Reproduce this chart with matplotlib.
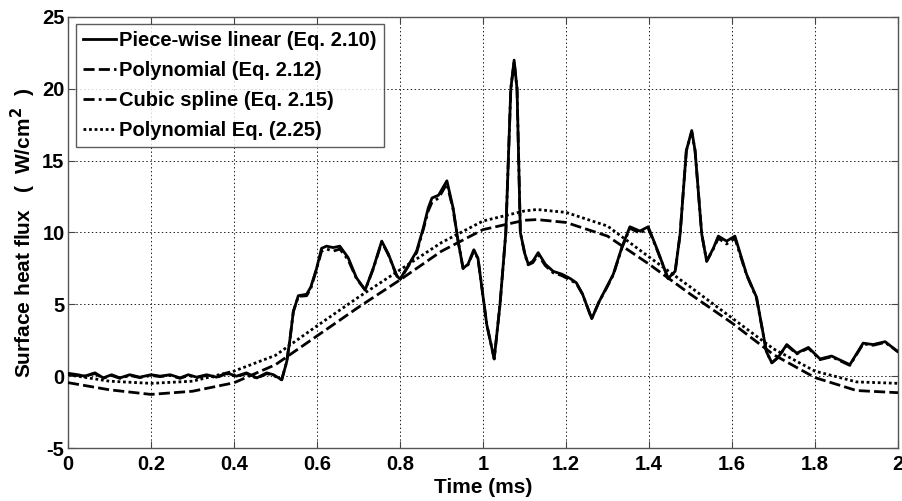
import matplotlib
matplotlib.use("Agg")
import matplotlib.pyplot as plt

# ---------------- data ----------------
t_pw = [0.000, 0.024, 0.040, 0.065, 0.085, 0.105, 0.125, 0.149, 0.173, 0.200,
        0.222, 0.246, 0.270, 0.290, 0.310, 0.334, 0.358, 0.382, 0.406, 0.430,
        0.455, 0.479, 0.495, 0.515, 0.527, 0.535, 0.543, 0.555, 0.575, 0.585,
        0.599, 0.611, 0.623, 0.639, 0.655, 0.675, 0.695, 0.716, 0.736, 0.756,
        0.772, 0.792, 0.800, 0.820, 0.840, 0.856, 0.868, 0.877, 0.893, 0.913,
        0.928, 0.940, 0.952, 0.964, 0.978, 0.988, 0.993, 1.009, 1.027, 1.041,
        1.055, 1.067, 1.075, 1.082, 1.090, 1.101, 1.109, 1.120, 1.133, 1.150,
        1.169, 1.190, 1.210, 1.225, 1.240, 1.262, 1.280, 1.298, 1.314, 1.335,
        1.354, 1.378, 1.398, 1.420, 1.446, 1.463, 1.475, 1.490, 1.503, 1.511,
        1.527, 1.539, 1.555, 1.567, 1.587, 1.607, 1.635, 1.659, 1.683, 1.696,
        1.711, 1.732, 1.756, 1.784, 1.812, 1.840, 1.884, 1.916, 1.940, 1.969,
        2.000]
q_pw = [0.20, 0.10, 0.00, 0.23, -0.12, 0.10, -0.12, 0.10, -0.07, 0.10,
        0.00, 0.10, -0.12, 0.10, -0.07, 0.10, -0.07, 0.23, 0.00, 0.23,
        -0.12, 0.23, 0.10, -0.25, 1.00, 2.60, 4.50, 5.60, 5.70, 6.20,
        7.50, 8.90, 9.05, 8.95, 9.05, 8.25, 6.85, 6.00, 7.55, 9.40,
        8.50, 7.00, 6.75, 7.70, 8.70, 10.30, 11.70, 12.40, 12.60, 13.60,
        11.70, 9.40, 7.50, 7.80, 8.80, 8.20, 7.10, 3.60, 1.20, 5.00,
        10.00, 20.00, 22.00, 20.00, 10.00, 8.50, 7.80, 8.00, 8.60, 7.80,
        7.30, 7.10, 6.80, 6.50, 5.70, 4.00, 5.20, 6.20, 7.10, 9.00,
        10.40, 10.10, 10.40, 8.80, 6.80, 7.30, 9.90, 15.70, 17.10, 15.70,
        9.90, 8.00, 8.90, 9.75, 9.40, 9.75, 7.10, 5.50, 1.70, 0.93,
        1.30, 2.20, 1.60, 2.00, 1.20, 1.40, 0.80, 2.30, 2.20, 2.40,
        1.70]

# cubic spline (Eq. 2.15): nearly coincident with the piece-wise linear curve
t_cs = t_pw
q_cs = [0.15, 0.05, 0.00, 0.18, -0.15, 0.05, -0.15, 0.05, -0.10, 0.05,
        -0.03, 0.05, -0.15, 0.05, -0.10, 0.05, -0.10, 0.18, -0.03, 0.18,
        -0.15, 0.18, 0.05, -0.25, 1.00, 2.60, 4.50, 5.55, 5.60, 6.10,
        7.45, 8.70, 8.85, 8.70, 8.85, 8.10, 6.80, 6.00, 7.50, 9.35,
        8.45, 7.00, 6.70, 7.65, 8.60, 10.20, 11.50, 12.10, 12.40, 13.40,
        11.60, 9.40, 7.50, 7.75, 8.75, 8.15, 7.10, 3.60, 1.20, 5.00,
        10.00, 20.00, 21.90, 20.00, 10.00, 8.45, 7.75, 7.90, 8.45, 7.70,
        7.20, 7.00, 6.70, 6.45, 5.70, 4.00, 5.20, 6.15, 7.05, 8.95,
        10.30, 9.95, 10.30, 8.75, 6.80, 7.25, 9.90, 15.70, 17.00, 15.70,
        9.90, 8.00, 8.85, 9.60, 9.20, 9.60, 7.05, 5.45, 1.70, 0.93,
        1.30, 2.15, 1.55, 1.95, 1.15, 1.35, 0.75, 2.25, 2.15, 2.35,
        1.70]

t_poly = [0.0, 0.1, 0.2, 0.3, 0.4, 0.5, 0.6, 0.7, 0.8, 0.9, 1.0, 1.1, 1.13,
          1.2, 1.3, 1.4, 1.5, 1.6, 1.7, 1.8, 1.9, 2.0]
q_poly12 = [-0.45, -0.95, -1.27, -1.05, -0.46, 0.80, 2.80, 4.80, 6.70, 8.70,
            10.20, 10.85, 10.90, 10.70, 9.75, 7.80, 5.70, 3.70, 1.50, -0.10,
            -1.00, -1.15]
q_poly25 = [0.10, -0.35, -0.50, -0.35, 0.35, 1.45, 3.50, 5.50, 7.40, 9.30,
            10.80, 11.50, 11.60, 11.40, 10.45, 8.30, 6.20, 4.05, 1.90, 0.35,
            -0.40, -0.50]

labels = ["Piece-wise linear (Eq. 2.10)", "Polynomial (Eq. 2.12)",
          "Cubic spline (Eq. 2.15)", "Polynomial Eq. (2.25)"]
x_ticks = [0, 0.2, 0.4, 0.6, 0.8, 1, 1.2, 1.4, 1.6, 1.8, 2]
x_tick_labels = ["0", "0.2", "0.4", "0.6", "0.8", "1", "1.2", "1.4", "1.6", "1.8", "2"]
y_ticks = [-5, 0, 5, 10, 15, 20, 25]

# ---------------- figure ----------------
plt.rcParams['font.family'] = ['Liberation Sans', 'DejaVu Sans']
plt.rcParams['font.weight'] = 'bold'
plt.rcParams['mathtext.default'] = 'bf'
plt.rcParams['axes.unicode_minus'] = False

fig = plt.figure(figsize=(9.02, 5.01), dpi=100)
ax = fig.add_axes([68/902, 1 - 448/501, 830/902, 431/501])

lw = 2.0
ax.plot(t_pw, q_pw, color='black', lw=lw, ls='-', label=labels[0],
        solid_joinstyle='round', zorder=4)
ax.plot(t_poly, q_poly12, color='black', lw=lw, ls=(0, (4, 1.5)), label=labels[1], zorder=3)
ax.plot(t_cs, q_cs, color='black', lw=lw, ls=(0, (4, 1.5, 1, 1.5)), label=labels[2],
        dash_joinstyle='round', zorder=3)
ax.plot(t_poly, q_poly25, color='black', lw=lw, ls=(0, (1, 1)), label=labels[3], zorder=3)

ax.set_xlim(0, 2)
ax.set_ylim(-5, 25)
ax.set_xticks(x_ticks)
ax.set_xticklabels(x_tick_labels)
ax.set_yticks(y_ticks)

ax.grid(True, color='#222222', ls=(0, (1.5, 2.5)), lw=0.7)
ax.tick_params(direction='in', top=True, right=True, length=5, width=0.8,
               labelsize=14.5, colors='#444444', labelcolor='black')
ax.tick_params(axis='x', pad=5)
ax.tick_params(axis='y', pad=2.5)
for lab in ax.get_xticklabels() + ax.get_yticklabels():
    lab.set_fontweight('bold')
for s in ax.spines.values():
    s.set_color('#555555')
    s.set_linewidth(1.0)

ax.set_xlabel("Time (ms)", fontsize=15, fontweight='bold', labelpad=3)
ax.set_ylabel("Surface heat flux   (  W/cm$^{2}$  )", fontsize=15,
              fontweight='bold', labelpad=3)

leg = ax.legend(loc='upper left', bbox_to_anchor=(8/830, 1 - 7/431), fontsize=14.5,
                frameon=True, fancybox=False, edgecolor='#333333',
                handlelength=1.65, handletextpad=0.15, borderpad=0.35,
                labelspacing=0.55, borderaxespad=0.0)
leg.get_frame().set_linewidth(1.0)
for txt in leg.get_texts():
    txt.set_fontweight('bold')

fig.savefig("out.png", dpi=100)
